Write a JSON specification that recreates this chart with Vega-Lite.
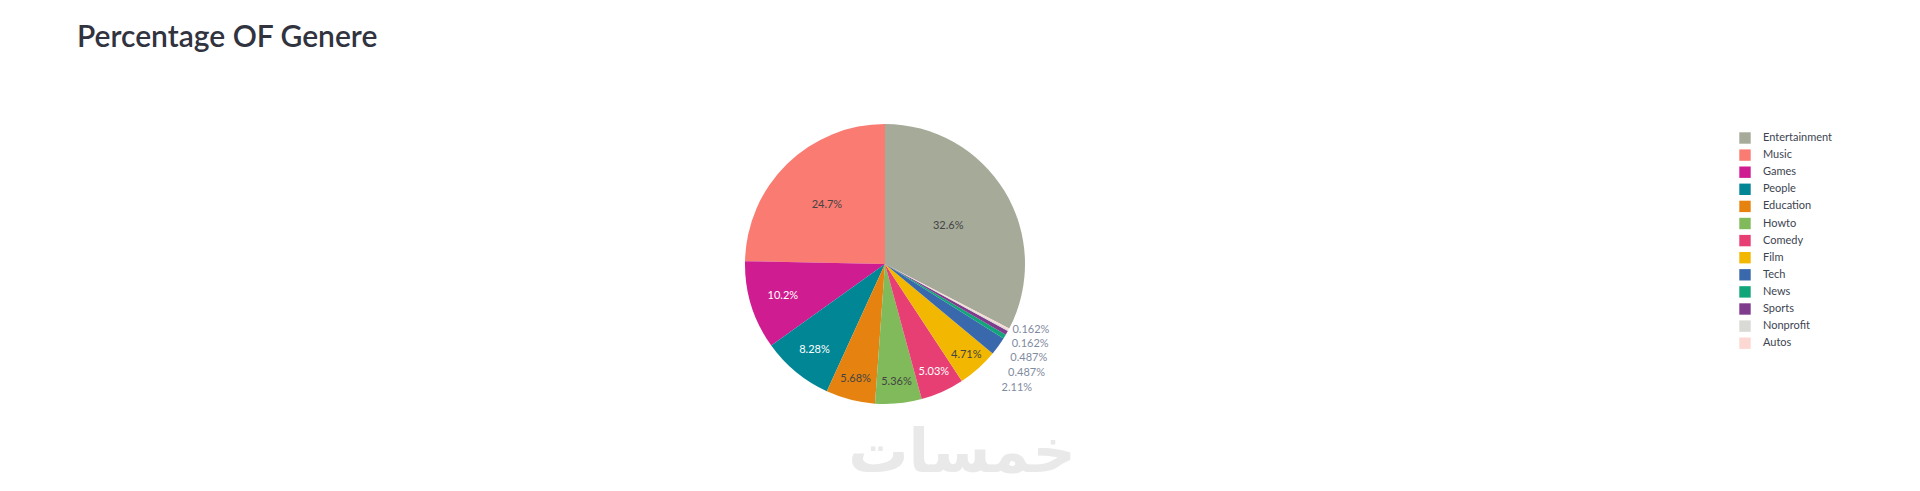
{
  "$schema": "https://vega.github.io/schema/vega-lite/v6.json",
  "autosize": {"type": "none"},
  "width": 1770,
  "height": 454,
  "padding": {"left": 0, "top": 37, "right": 150, "bottom": 0},
  "background": "white",
  "config": {"view": {"stroke": null}, "text": {"font": "Lato"}},
  "title": {
    "text": "Percentage OF Genere",
    "anchor": "start",
    "frame": "group",
    "orient": "top",
    "offset": 0,
    "baseline": "alphabetic",
    "dx": 77,
    "dy": 40,
    "font": "Lato",
    "fontSize": 30,
    "fontWeight": 600,
    "color": "#31333F"
  },
  "datasets": {
    "genres": [
      {"genre": "Entertainment", "count": 201, "label": "32.6%", "seq": 1},
      {"genre": "Music", "count": 152, "label": "24.7%", "seq": 13},
      {"genre": "Games", "count": 63, "label": "10.2%", "seq": 12},
      {"genre": "People", "count": 51, "label": "8.28%", "seq": 11},
      {"genre": "Education", "count": 35, "label": "5.68%", "seq": 10},
      {"genre": "Howto", "count": 33, "label": "5.36%", "seq": 9},
      {"genre": "Comedy", "count": 31, "label": "5.03%", "seq": 8},
      {"genre": "Film", "count": 29, "label": "4.71%", "seq": 7},
      {"genre": "Tech", "count": 13, "label": "2.11%", "seq": 6},
      {"genre": "News", "count": 3, "label": "0.487%", "seq": 5},
      {"genre": "Sports", "count": 3, "label": "0.487%", "seq": 4},
      {"genre": "Nonprofit", "count": 1, "label": "0.162%", "seq": 3},
      {"genre": "Autos", "count": 1, "label": "0.162%", "seq": 2}
    ],
    "brand": [{"name": "خمسات", "share": 1}]
  },
  "resolve": {"scale": {"theta": "independent"}},
  "layer": [
    {
      "data": {"name": "brand"},
      "mark": {"type": "text", "radius": 190, "dx": 77, "font": "DejaVu Sans", "fontSize": 60, "fontWeight": "bold", "color": "#e9e9e9", "baseline": "middle"},
      "encoding": {
        "theta": {"field": "share", "type": "quantitative", "stack": true},
        "text": {"field": "name"}
      }
    },
    {
      "data": {"name": "genres"},
      "mark": {"type": "arc", "outerRadius": 140},
      "encoding": {
        "theta": {"field": "count", "type": "quantitative", "stack": true},
        "order": {"field": "seq", "type": "quantitative"},
        "color": {
          "field": "genre",
          "type": "nominal",
          "scale": {
            "domain": ["Entertainment", "Music", "Games", "People", "Education", "Howto", "Comedy", "Film", "Tech", "News", "Sports", "Nonprofit", "Autos"],
            "range": ["#A5AA99", "#F97B72", "#CF1C90", "#008695", "#E68310", "#80BA5A", "#E73F74", "#F2B701", "#3969AC", "#11A579", "#7F3C8D", "#D9D9D6", "#FCD8D3"]
          },
          "legend": {
            "orient": "none",
            "legendX": 1739,
            "legendY": 95,
            "title": null,
            "symbolType": "square",
            "symbolSize": 130,
            "symbolStrokeWidth": 0,
            "labelFont": "Lato",
            "labelFontSize": 11,
            "labelColor": "#3d4451",
            "labelOffset": 12,
            "rowPadding": 5.1,
            "padding": 0
          }
        }
      }
    },
    {
      "data": {"name": "genres"},
      "mark": {"type": "text", "radius": 74, "fontSize": 11, "baseline": "middle"},
      "encoding": {
        "theta": {"field": "count", "type": "quantitative", "stack": true},
        "order": {"field": "seq", "type": "quantitative"},
        "text": {"condition": {"test": "datum.genre === 'Entertainment'", "field": "label"}, "value": ""},
        "color": {"value": "#444444"}
      }
    },
    {
      "data": {"name": "genres"},
      "mark": {"type": "text", "radius": 83, "fontSize": 11, "baseline": "middle"},
      "encoding": {
        "theta": {"field": "count", "type": "quantitative", "stack": true},
        "order": {"field": "seq", "type": "quantitative"},
        "text": {"condition": {"test": "datum.genre === 'Music'", "field": "label"}, "value": ""},
        "color": {"value": "#444444"}
      }
    },
    {
      "data": {"name": "genres"},
      "mark": {"type": "text", "radius": 107, "fontSize": 11, "baseline": "middle"},
      "encoding": {
        "theta": {"field": "count", "type": "quantitative", "stack": true},
        "order": {"field": "seq", "type": "quantitative"},
        "text": {"condition": {"test": "datum.genre === 'Games'", "field": "label"}, "value": ""},
        "color": {"value": "#ffffff"}
      }
    },
    {
      "data": {"name": "genres"},
      "mark": {"type": "text", "radius": 111, "fontSize": 11, "baseline": "middle"},
      "encoding": {
        "theta": {"field": "count", "type": "quantitative", "stack": true},
        "order": {"field": "seq", "type": "quantitative"},
        "text": {"condition": {"test": "datum.genre === 'People'", "field": "label"}, "value": ""},
        "color": {"value": "#ffffff"}
      }
    },
    {
      "data": {"name": "genres"},
      "mark": {"type": "text", "radius": 119, "fontSize": 11, "baseline": "middle"},
      "encoding": {
        "theta": {"field": "count", "type": "quantitative", "stack": true},
        "order": {"field": "seq", "type": "quantitative"},
        "text": {"condition": {"test": "indexof(['Education', 'Howto', 'Comedy'], datum.genre) >= 0", "field": "label"}, "value": ""},
        "color": {"condition": {"test": "datum.genre === 'Comedy'", "value": "#ffffff"}, "value": "#444444"}
      }
    },
    {
      "data": {"name": "genres"},
      "mark": {"type": "text", "radius": 122, "fontSize": 11, "baseline": "middle"},
      "encoding": {
        "theta": {"field": "count", "type": "quantitative", "stack": true},
        "order": {"field": "seq", "type": "quantitative"},
        "text": {"condition": {"test": "datum.genre === 'Film'", "field": "label"}, "value": ""},
        "color": {"value": "#444444"}
      }
    },
    {
      "data": {"name": "genres"},
      "mark": {"type": "text", "radius": 144, "dy": -1, "align": "left", "fontSize": 11, "baseline": "middle", "color": "#7f8ba0"},
      "encoding": {
        "theta": {"field": "count", "type": "quantitative", "stack": true},
        "order": {"field": "seq", "type": "quantitative"},
        "text": {"condition": {"test": "datum.genre === 'Autos'", "field": "label"}, "value": ""}
      }
    },
    {
      "data": {"name": "genres"},
      "mark": {"type": "text", "radius": 144, "dy": 12, "align": "left", "fontSize": 11, "baseline": "middle", "color": "#7f8ba0"},
      "encoding": {
        "theta": {"field": "count", "type": "quantitative", "stack": true},
        "order": {"field": "seq", "type": "quantitative"},
        "text": {"condition": {"test": "datum.genre === 'Nonprofit'", "field": "label"}, "value": ""}
      }
    },
    {
      "data": {"name": "genres"},
      "mark": {"type": "text", "radius": 144, "dy": 23, "align": "left", "fontSize": 11, "baseline": "middle", "color": "#7f8ba0"},
      "encoding": {
        "theta": {"field": "count", "type": "quantitative", "stack": true},
        "order": {"field": "seq", "type": "quantitative"},
        "text": {"condition": {"test": "datum.genre === 'Sports'", "field": "label"}, "value": ""}
      }
    },
    {
      "data": {"name": "genres"},
      "mark": {"type": "text", "radius": 144, "dy": 34, "align": "left", "fontSize": 11, "baseline": "middle", "color": "#7f8ba0"},
      "encoding": {
        "theta": {"field": "count", "type": "quantitative", "stack": true},
        "order": {"field": "seq", "type": "quantitative"},
        "text": {"condition": {"test": "datum.genre === 'News'", "field": "label"}, "value": ""}
      }
    },
    {
      "data": {"name": "genres"},
      "mark": {"type": "text", "radius": 144, "dy": 39, "align": "left", "fontSize": 11, "baseline": "middle", "color": "#7f8ba0"},
      "encoding": {
        "theta": {"field": "count", "type": "quantitative", "stack": true},
        "order": {"field": "seq", "type": "quantitative"},
        "text": {"condition": {"test": "datum.genre === 'Tech'", "field": "label"}, "value": ""}
      }
    }
  ]
}
